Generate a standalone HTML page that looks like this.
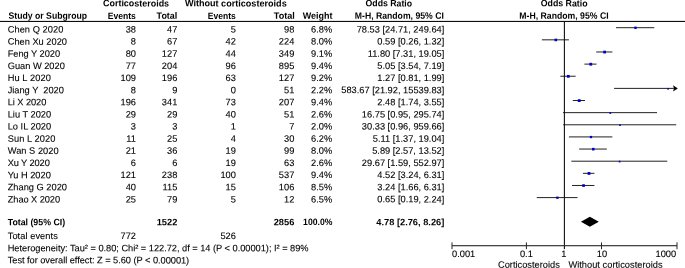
<!DOCTYPE html>
<html><head><meta charset="utf-8"><title>Forest plot</title>
<style>
html,body{margin:0;padding:0;background:#fff;}
body{width:685px;height:268px;position:relative;overflow:hidden;}
svg{position:absolute;left:0;top:0;display:block;}
text{font-family:"Liberation Sans",sans-serif;font-size:9.28px;fill:#000;stroke:#000;stroke-width:0.1px;}
text[font-weight]{stroke:none;}
</style></head><body>
<svg width="685" height="268" viewBox="0 0 685 268">
<g>
<line x1="616.03" y1="27.70" x2="654.30" y2="27.70" stroke="#222" stroke-width="1"/>
<rect x="634.27" y="26.61" width="2.39" height="2.39" fill="#0000c8"/>
<line x1="541.86" y1="39.84" x2="568.92" y2="39.84" stroke="#222" stroke-width="1"/>
<rect x="554.52" y="38.65" width="2.58" height="2.58" fill="#0000c8"/>
<line x1="596.20" y1="51.97" x2="612.40" y2="51.97" stroke="#222" stroke-width="1"/>
<rect x="603.22" y="50.70" width="2.75" height="2.75" fill="#0000c8"/>
<line x1="584.39" y1="64.11" x2="596.53" y2="64.11" stroke="#222" stroke-width="1"/>
<rect x="589.37" y="62.81" width="2.80" height="2.80" fill="#0000c8"/>
<line x1="560.37" y1="76.24" x2="575.61" y2="76.24" stroke="#222" stroke-width="1"/>
<rect x="566.91" y="74.96" width="2.77" height="2.77" fill="#0000c8"/>
<line x1="614.08" y1="88.38" x2="677.00" y2="88.38" stroke="#222" stroke-width="1"/>
<path d="M677.80 88.38 l-4.8 -3.1 l1 3.1 l-1 3.1z" fill="#000"/>
<rect x="667.31" y="87.95" width="1.65" height="1.65" fill="#0000c8"/>
<line x1="572.82" y1="100.52" x2="585.03" y2="100.52" stroke="#222" stroke-width="1"/>
<rect x="577.79" y="99.22" width="2.80" height="2.80" fill="#0000c8"/>
<line x1="562.96" y1="112.65" x2="657.06" y2="112.65" stroke="#222" stroke-width="1"/>
<rect x="609.44" y="112.19" width="1.71" height="1.71" fill="#0000c8"/>
<line x1="563.14" y1="124.79" x2="676.23" y2="124.79" stroke="#222" stroke-width="1"/>
<rect x="619.16" y="124.38" width="1.62" height="1.62" fill="#0000c8"/>
<line x1="568.93" y1="136.92" x2="612.39" y2="136.92" stroke="#222" stroke-width="1"/>
<rect x="589.82" y="135.88" width="2.29" height="2.29" fill="#0000c8"/>
<line x1="579.17" y1="149.06" x2="606.81" y2="149.06" stroke="#222" stroke-width="1"/>
<rect x="591.99" y="147.87" width="2.58" height="2.58" fill="#0000c8"/>
<line x1="571.35" y1="161.20" x2="667.25" y2="161.20" stroke="#222" stroke-width="1"/>
<rect x="618.75" y="160.74" width="1.71" height="1.71" fill="#0000c8"/>
<line x1="582.95" y1="173.33" x2="594.40" y2="173.33" stroke="#222" stroke-width="1"/>
<rect x="587.57" y="172.03" width="2.80" height="2.80" fill="#0000c8"/>
<line x1="572.05" y1="185.47" x2="594.40" y2="185.47" stroke="#222" stroke-width="1"/>
<rect x="582.22" y="184.24" width="2.66" height="2.66" fill="#0000c8"/>
<line x1="536.75" y1="197.60" x2="577.53" y2="197.60" stroke="#222" stroke-width="1"/>
<rect x="556.22" y="196.54" width="2.34" height="2.34" fill="#0000c8"/>
<polygon points="580.93,221.78 589.88,216.78 598.79,221.78 589.88,226.78" fill="#000"/>
<rect x="0" y="20.9" width="685" height="1.05" fill="#000"/>
<rect x="563.85" y="21.5" width="1.1" height="227.60" fill="#111"/>
<rect x="452.00" y="245.15" width="225.00" height="1.1" fill="#262626"/>
<rect x="451.50" y="242.40" width="1" height="6.8" fill="#262626"/>
<rect x="525.90" y="242.40" width="1" height="6.8" fill="#262626"/>
<rect x="601.00" y="242.40" width="1" height="6.8" fill="#262626"/>
<rect x="676.50" y="242.40" width="1" height="6.8" fill="#262626"/>
</g>
<g>
<text x="103.00" y="6.35" font-weight="bold" fill="#383838" textLength="66.10" lengthAdjust="spacingAndGlyphs" transform="rotate(0.03 103.0 6.3)">Corticosteroids</text>
<text x="184.90" y="6.35" font-weight="bold" fill="#383838" textLength="101.80" lengthAdjust="spacingAndGlyphs" transform="rotate(0.03 184.9 6.3)">Without corticosteroids</text>
<text x="365.50" y="6.35" font-weight="bold" fill="#383838" textLength="46.60" lengthAdjust="spacingAndGlyphs" transform="rotate(0.03 365.5 6.3)">Odds Ratio</text>
<text x="540.70" y="6.35" font-weight="bold" fill="#383838" textLength="46.90" lengthAdjust="spacingAndGlyphs" transform="rotate(0.03 540.7 6.3)">Odds Ratio</text>
<text x="8.50" y="18.80" font-weight="bold" fill="#383838" textLength="78.60" lengthAdjust="spacingAndGlyphs" transform="rotate(0.03 8.5 18.8)">Study or Subgroup</text>
<text x="107.70" y="18.80" font-weight="bold" fill="#383838" textLength="28.20" lengthAdjust="spacingAndGlyphs" transform="rotate(0.03 107.7 18.8)">Events</text>
<text x="156.60" y="18.80" font-weight="bold" fill="#383838" textLength="20.70" lengthAdjust="spacingAndGlyphs" transform="rotate(0.03 156.6 18.8)">Total</text>
<text x="207.80" y="18.80" font-weight="bold" fill="#383838" textLength="28.00" lengthAdjust="spacingAndGlyphs" transform="rotate(0.03 207.8 18.8)">Events</text>
<text x="273.80" y="18.80" font-weight="bold" fill="#383838" textLength="21.10" lengthAdjust="spacingAndGlyphs" transform="rotate(0.03 273.8 18.8)">Total</text>
<text x="302.80" y="18.80" font-weight="bold" fill="#383838" textLength="29.80" lengthAdjust="spacingAndGlyphs" transform="rotate(0.03 302.8 18.8)">Weight</text>
<text x="354.80" y="18.80" font-weight="bold" fill="#383838" textLength="89.00" lengthAdjust="spacingAndGlyphs" transform="rotate(0.03 354.8 18.8)">M-H, Random, 95% CI</text>
<text x="519.30" y="18.80" font-weight="bold" fill="#383838" textLength="89.30" lengthAdjust="spacingAndGlyphs" transform="rotate(0.03 519.3 18.8)">M-H, Random, 95% CI</text>
<text x="7.70" y="32.50" textLength="55.60" lengthAdjust="spacing" transform="rotate(0.03 7.7 32.5)">Chen Q 2020</text>
<text x="136.00" y="32.50" text-anchor="end" transform="rotate(0.03 136.0 32.5)">38</text>
<text x="177.30" y="32.50" text-anchor="end" transform="rotate(0.03 177.3 32.5)">47</text>
<text x="235.90" y="32.50" text-anchor="end" transform="rotate(0.03 235.9 32.5)">5</text>
<text x="294.30" y="32.50" text-anchor="end" transform="rotate(0.03 294.3 32.5)">98</text>
<text x="332.20" y="32.50" text-anchor="end" transform="rotate(0.03 332.2 32.5)">6.8%</text>
<text x="444.30" y="32.50" text-anchor="end" transform="rotate(0.03 444.3 32.5)">78.53 [24.71, 249.64]</text>
<text x="7.70" y="44.64" textLength="59.30" lengthAdjust="spacing" transform="rotate(0.03 7.7 44.6)">Chen Xu 2020</text>
<text x="136.00" y="44.64" text-anchor="end" transform="rotate(0.03 136.0 44.6)">8</text>
<text x="177.30" y="44.64" text-anchor="end" transform="rotate(0.03 177.3 44.6)">67</text>
<text x="235.90" y="44.64" text-anchor="end" transform="rotate(0.03 235.9 44.6)">42</text>
<text x="294.30" y="44.64" text-anchor="end" transform="rotate(0.03 294.3 44.6)">224</text>
<text x="332.20" y="44.64" text-anchor="end" transform="rotate(0.03 332.2 44.6)">8.0%</text>
<text x="444.30" y="44.64" text-anchor="end" transform="rotate(0.03 444.3 44.6)">0.59 [0.26, 1.32]</text>
<text x="7.70" y="56.77" textLength="52.40" lengthAdjust="spacing" transform="rotate(0.03 7.7 56.8)">Feng Y 2020</text>
<text x="136.00" y="56.77" text-anchor="end" transform="rotate(0.03 136.0 56.8)">80</text>
<text x="177.30" y="56.77" text-anchor="end" transform="rotate(0.03 177.3 56.8)">127</text>
<text x="235.90" y="56.77" text-anchor="end" transform="rotate(0.03 235.9 56.8)">44</text>
<text x="294.30" y="56.77" text-anchor="end" transform="rotate(0.03 294.3 56.8)">349</text>
<text x="332.20" y="56.77" text-anchor="end" transform="rotate(0.03 332.2 56.8)">9.1%</text>
<text x="444.30" y="56.77" text-anchor="end" transform="rotate(0.03 444.3 56.8)">11.80 [7.31, 19.05]</text>
<text x="7.70" y="68.91" textLength="57.10" lengthAdjust="spacing" transform="rotate(0.03 7.7 68.9)">Guan W 2020</text>
<text x="136.00" y="68.91" text-anchor="end" transform="rotate(0.03 136.0 68.9)">77</text>
<text x="177.30" y="68.91" text-anchor="end" transform="rotate(0.03 177.3 68.9)">204</text>
<text x="235.90" y="68.91" text-anchor="end" transform="rotate(0.03 235.9 68.9)">96</text>
<text x="294.30" y="68.91" text-anchor="end" transform="rotate(0.03 294.3 68.9)">895</text>
<text x="332.20" y="68.91" text-anchor="end" transform="rotate(0.03 332.2 68.9)">9.4%</text>
<text x="444.30" y="68.91" text-anchor="end" transform="rotate(0.03 444.3 68.9)">5.05 [3.54, 7.19]</text>
<text x="7.70" y="81.04" textLength="43.10" lengthAdjust="spacing" transform="rotate(0.03 7.7 81.0)">Hu L 2020</text>
<text x="136.00" y="81.04" text-anchor="end" transform="rotate(0.03 136.0 81.0)">109</text>
<text x="177.30" y="81.04" text-anchor="end" transform="rotate(0.03 177.3 81.0)">196</text>
<text x="235.90" y="81.04" text-anchor="end" transform="rotate(0.03 235.9 81.0)">63</text>
<text x="294.30" y="81.04" text-anchor="end" transform="rotate(0.03 294.3 81.0)">127</text>
<text x="332.20" y="81.04" text-anchor="end" transform="rotate(0.03 332.2 81.0)">9.2%</text>
<text x="444.30" y="81.04" text-anchor="end" transform="rotate(0.03 444.3 81.0)">1.27 [0.81, 1.99]</text>
<text x="7.70" y="93.18" textLength="56.10" lengthAdjust="spacing" xml:space="preserve" style="white-space:pre" transform="rotate(0.03 7.7 93.2)">Jiang Y  2020</text>
<text x="136.00" y="93.18" text-anchor="end" transform="rotate(0.03 136.0 93.2)">8</text>
<text x="177.30" y="93.18" text-anchor="end" transform="rotate(0.03 177.3 93.2)">9</text>
<text x="235.90" y="93.18" text-anchor="end" transform="rotate(0.03 235.9 93.2)">0</text>
<text x="294.30" y="93.18" text-anchor="end" transform="rotate(0.03 294.3 93.2)">51</text>
<text x="332.20" y="93.18" text-anchor="end" transform="rotate(0.03 332.2 93.2)">2.2%</text>
<text x="444.30" y="93.18" text-anchor="end" transform="rotate(0.03 444.3 93.2)">583.67 [21.92, 15539.83]</text>
<text x="7.70" y="105.32" textLength="38.60" lengthAdjust="spacing" transform="rotate(0.03 7.7 105.3)">Li X 2020</text>
<text x="136.00" y="105.32" text-anchor="end" transform="rotate(0.03 136.0 105.3)">196</text>
<text x="177.30" y="105.32" text-anchor="end" transform="rotate(0.03 177.3 105.3)">341</text>
<text x="235.90" y="105.32" text-anchor="end" transform="rotate(0.03 235.9 105.3)">73</text>
<text x="294.30" y="105.32" text-anchor="end" transform="rotate(0.03 294.3 105.3)">207</text>
<text x="332.20" y="105.32" text-anchor="end" transform="rotate(0.03 332.2 105.3)">9.4%</text>
<text x="444.30" y="105.32" text-anchor="end" transform="rotate(0.03 444.3 105.3)">2.48 [1.74, 3.55]</text>
<text x="7.70" y="117.45" textLength="43.40" lengthAdjust="spacing" transform="rotate(0.03 7.7 117.5)">Liu T 2020</text>
<text x="136.00" y="117.45" text-anchor="end" transform="rotate(0.03 136.0 117.5)">29</text>
<text x="177.30" y="117.45" text-anchor="end" transform="rotate(0.03 177.3 117.5)">29</text>
<text x="235.90" y="117.45" text-anchor="end" transform="rotate(0.03 235.9 117.5)">40</text>
<text x="294.30" y="117.45" text-anchor="end" transform="rotate(0.03 294.3 117.5)">51</text>
<text x="332.20" y="117.45" text-anchor="end" transform="rotate(0.03 332.2 117.5)">2.6%</text>
<text x="444.30" y="117.45" text-anchor="end" transform="rotate(0.03 444.3 117.5)">16.75 [0.95, 295.74]</text>
<text x="7.70" y="129.59" textLength="43.40" lengthAdjust="spacing" transform="rotate(0.03 7.7 129.6)">Lo IL 2020</text>
<text x="136.00" y="129.59" text-anchor="end" transform="rotate(0.03 136.0 129.6)">3</text>
<text x="177.30" y="129.59" text-anchor="end" transform="rotate(0.03 177.3 129.6)">3</text>
<text x="235.90" y="129.59" text-anchor="end" transform="rotate(0.03 235.9 129.6)">1</text>
<text x="294.30" y="129.59" text-anchor="end" transform="rotate(0.03 294.3 129.6)">7</text>
<text x="332.20" y="129.59" text-anchor="end" transform="rotate(0.03 332.2 129.6)">2.0%</text>
<text x="444.30" y="129.59" text-anchor="end" transform="rotate(0.03 444.3 129.6)">30.33 [0.96, 959.66]</text>
<text x="7.70" y="141.72" textLength="47.70" lengthAdjust="spacing" transform="rotate(0.03 7.7 141.7)">Sun L 2020</text>
<text x="136.00" y="141.72" text-anchor="end" transform="rotate(0.03 136.0 141.7)">11</text>
<text x="177.30" y="141.72" text-anchor="end" transform="rotate(0.03 177.3 141.7)">25</text>
<text x="235.90" y="141.72" text-anchor="end" transform="rotate(0.03 235.9 141.7)">4</text>
<text x="294.30" y="141.72" text-anchor="end" transform="rotate(0.03 294.3 141.7)">30</text>
<text x="332.20" y="141.72" text-anchor="end" transform="rotate(0.03 332.2 141.7)">6.2%</text>
<text x="444.30" y="141.72" text-anchor="end" transform="rotate(0.03 444.3 141.7)">5.11 [1.37, 19.04]</text>
<text x="7.70" y="153.86" textLength="50.90" lengthAdjust="spacing" transform="rotate(0.03 7.7 153.9)">Wan S 2020</text>
<text x="136.00" y="153.86" text-anchor="end" transform="rotate(0.03 136.0 153.9)">21</text>
<text x="177.30" y="153.86" text-anchor="end" transform="rotate(0.03 177.3 153.9)">36</text>
<text x="235.90" y="153.86" text-anchor="end" transform="rotate(0.03 235.9 153.9)">19</text>
<text x="294.30" y="153.86" text-anchor="end" transform="rotate(0.03 294.3 153.9)">99</text>
<text x="332.20" y="153.86" text-anchor="end" transform="rotate(0.03 332.2 153.9)">8.0%</text>
<text x="444.30" y="153.86" text-anchor="end" transform="rotate(0.03 444.3 153.9)">5.89 [2.57, 13.52]</text>
<text x="7.70" y="166.00" textLength="42.10" lengthAdjust="spacing" transform="rotate(0.03 7.7 166.0)">Xu Y 2020</text>
<text x="136.00" y="166.00" text-anchor="end" transform="rotate(0.03 136.0 166.0)">6</text>
<text x="177.30" y="166.00" text-anchor="end" transform="rotate(0.03 177.3 166.0)">6</text>
<text x="235.90" y="166.00" text-anchor="end" transform="rotate(0.03 235.9 166.0)">19</text>
<text x="294.30" y="166.00" text-anchor="end" transform="rotate(0.03 294.3 166.0)">63</text>
<text x="332.20" y="166.00" text-anchor="end" transform="rotate(0.03 332.2 166.0)">2.6%</text>
<text x="444.30" y="166.00" text-anchor="end" transform="rotate(0.03 444.3 166.0)">29.67 [1.59, 552.97]</text>
<text x="7.70" y="178.13" textLength="43.10" lengthAdjust="spacing" transform="rotate(0.03 7.7 178.1)">Yu H 2020</text>
<text x="136.00" y="178.13" text-anchor="end" transform="rotate(0.03 136.0 178.1)">121</text>
<text x="177.30" y="178.13" text-anchor="end" transform="rotate(0.03 177.3 178.1)">238</text>
<text x="235.90" y="178.13" text-anchor="end" transform="rotate(0.03 235.9 178.1)">100</text>
<text x="294.30" y="178.13" text-anchor="end" transform="rotate(0.03 294.3 178.1)">537</text>
<text x="332.20" y="178.13" text-anchor="end" transform="rotate(0.03 332.2 178.1)">9.4%</text>
<text x="444.30" y="178.13" text-anchor="end" transform="rotate(0.03 444.3 178.1)">4.52 [3.24, 6.31]</text>
<text x="7.70" y="190.27" textLength="59.30" lengthAdjust="spacing" transform="rotate(0.03 7.7 190.3)">Zhang G 2020</text>
<text x="136.00" y="190.27" text-anchor="end" transform="rotate(0.03 136.0 190.3)">40</text>
<text x="177.30" y="190.27" text-anchor="end" transform="rotate(0.03 177.3 190.3)">115</text>
<text x="235.90" y="190.27" text-anchor="end" transform="rotate(0.03 235.9 190.3)">15</text>
<text x="294.30" y="190.27" text-anchor="end" transform="rotate(0.03 294.3 190.3)">106</text>
<text x="332.20" y="190.27" text-anchor="end" transform="rotate(0.03 332.2 190.3)">8.5%</text>
<text x="444.30" y="190.27" text-anchor="end" transform="rotate(0.03 444.3 190.3)">3.24 [1.66, 6.31]</text>
<text x="7.70" y="202.40" textLength="52.40" lengthAdjust="spacing" transform="rotate(0.03 7.7 202.4)">Zhao X 2020</text>
<text x="136.00" y="202.40" text-anchor="end" transform="rotate(0.03 136.0 202.4)">25</text>
<text x="177.30" y="202.40" text-anchor="end" transform="rotate(0.03 177.3 202.4)">79</text>
<text x="235.90" y="202.40" text-anchor="end" transform="rotate(0.03 235.9 202.4)">5</text>
<text x="294.30" y="202.40" text-anchor="end" transform="rotate(0.03 294.3 202.4)">12</text>
<text x="332.20" y="202.40" text-anchor="end" transform="rotate(0.03 332.2 202.4)">6.5%</text>
<text x="444.30" y="202.40" text-anchor="end" transform="rotate(0.03 444.3 202.4)">0.65 [0.19, 2.24]</text>
<text x="7.70" y="225.30" font-weight="bold" fill="#383838" textLength="57.40" lengthAdjust="spacingAndGlyphs" transform="rotate(0.03 7.7 225.3)">Total (95% CI)</text>
<text x="177.30" y="225.30" text-anchor="end" font-weight="bold" fill="#383838" transform="rotate(0.03 177.3 225.3)">1522</text>
<text x="294.30" y="225.30" text-anchor="end" font-weight="bold" fill="#383838" transform="rotate(0.03 294.3 225.3)">2856</text>
<text x="303.10" y="225.30" font-weight="bold" fill="#383838" textLength="29.30" lengthAdjust="spacingAndGlyphs" transform="rotate(0.03 303.1 225.3)">100.0%</text>
<text x="444.30" y="225.30" text-anchor="end" font-weight="bold" fill="#383838" transform="rotate(0.03 444.3 225.3)">4.78 [2.76, 8.26]</text>
<text x="7.70" y="238.90" textLength="50.10" lengthAdjust="spacing" transform="rotate(0.03 7.7 238.9)">Total events</text>
<text x="136.00" y="238.90" text-anchor="end" transform="rotate(0.03 136.0 238.9)">772</text>
<text x="235.90" y="238.90" text-anchor="end" transform="rotate(0.03 235.9 238.9)">526</text>
<text x="7.70" y="251.20" textLength="300.90" lengthAdjust="spacing" transform="rotate(0.03 7.7 251.2)">Heterogeneity: Tau² = 0.80; Chi² = 122.72, df = 14 (P &lt; 0.00001); I² = 89%</text>
<text x="7.70" y="263.30" textLength="181.50" lengthAdjust="spacing" transform="rotate(0.03 7.7 263.3)">Test for overall effect: Z = 5.60 (P &lt; 0.00001)</text>
<text x="452.00" y="257.10" transform="rotate(0.03 452.0 257.1)">0.001</text>
<text x="526.40" y="257.10" text-anchor="middle" transform="rotate(0.03 526.4 257.1)">0.1</text>
<text x="563.90" y="257.10" text-anchor="middle" transform="rotate(0.03 563.9 257.1)">1</text>
<text x="601.90" y="257.10" text-anchor="middle" transform="rotate(0.03 601.9 257.1)">10</text>
<text x="676.20" y="257.10" text-anchor="end" transform="rotate(0.03 676.2 257.1)">1000</text>
<text x="559.80" y="267.80" text-anchor="end" transform="rotate(0.03 559.8 267.8)">Corticosteroids</text>
<text x="568.40" y="267.80" textLength="94.20" lengthAdjust="spacing" transform="rotate(0.03 568.4 267.8)">Without corticosteroids</text>
</g>
</svg>
</body></html>
